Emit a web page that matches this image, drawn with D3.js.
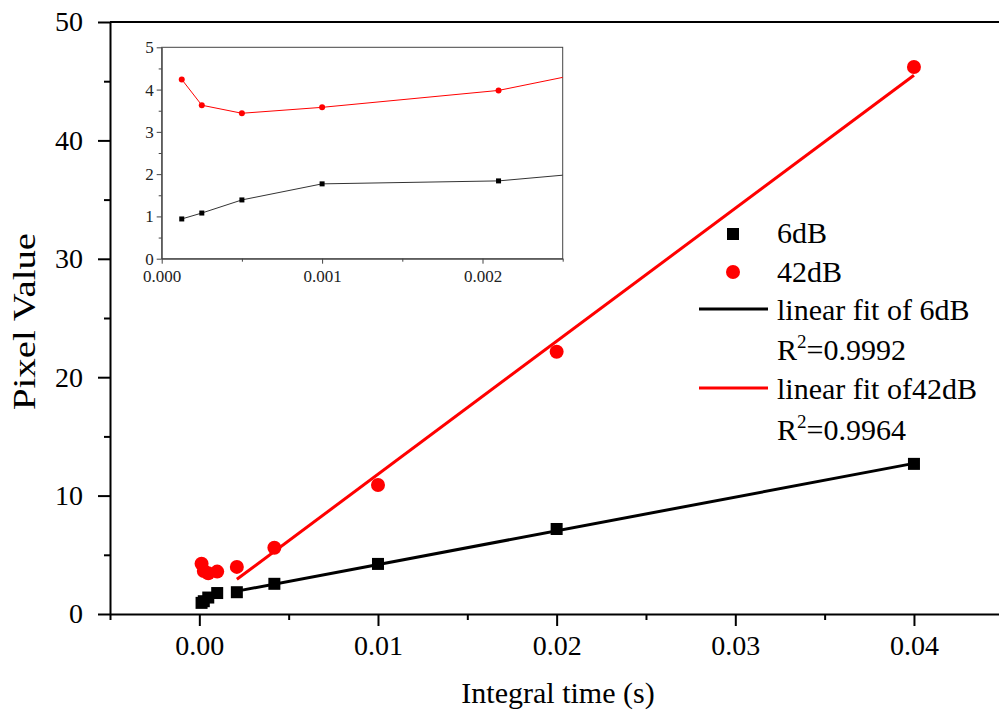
<!DOCTYPE html>
<html lang="en">
<head>
  <meta charset="utf-8">
  <title>Pixel value vs integral time</title>
  <style>
    body {
      margin: 0;
      background: #fff;
    }

    svg text {
      font-family: "Liberation Serif", "Times New Roman", serif !important;
      fill: #000;
    }

    .axis path, .axis line {
      fill: none;
      stroke: #000;
      stroke-width: 2;
    }

    .inset .axis path, .inset .axis line {
      stroke: #444;
      stroke-width: 1;
    }

    .inset .axis text {
      fill: #222;
    }

    .legend text {
      font-size: 30px;
    }
  </style>
</head>
<body>
  <div id="chart"></div>

  <script src="https://d3js.org/d3.v7.min.js"></script>
  <script>
    // integral times (s) and pixel values
    var times = [0.000125, 0.00025, 0.0005, 0.001, 0.0021, 0.0042, 0.01, 0.02, 0.04];
    var pix6dB = [0.94, 1.08, 1.39, 1.77, 1.84, 2.55, 4.23, 7.18, 12.68];
    var pix42dB = [4.24, 3.63, 3.44, 3.58, 3.98, 5.6, 10.9, 22.15, 46.2];

    // end points of the two linear fits (time, value)
    var fit6dB = [[0.0021, 1.93], [0.04, 12.72]];
    var fit42dB = [[0.0021, 2.93], [0.04, 45.5]];

    var xTicks = [0, 0.01, 0.02, 0.03, 0.04];
    var yTicks = [0, 10, 20, 30, 40, 50];
    var insetXTicks = [0, 0.001, 0.002];
    var insetYTicks = [0, 1, 2, 3, 4, 5];

    var legendLabels = ["6dB", "42dB", "linear fit of 6dB", "0.9992", "linear fit of42dB", "0.9964"];

    var width = 999, height = 716;
    var serif = "'Liberation Serif', 'Times New Roman', serif";

    var svg = d3.select("#chart").append("svg")
                .attr("width", width)
                .attr("height", height);

    var x = d3.scaleLinear().domain([-0.005, 0.04476]).range([110, 999]);
    var y = d3.scaleLinear().domain([0, 50]).range([614, 22]);

    function styleAxis(g, size) {
      g.attr("font-family", serif).attr("font-size", size);
      g.selectAll("text").style("font-family", serif).style("font-size", size + "px");
    }

    // top frame line
    svg.append("line")
        .attr("x1", 110).attr("x2", 999)
        .attr("y1", y(50)).attr("y2", y(50))
        .attr("stroke", "#000")
        .attr("stroke-width", 2);

    // main axes
    svg.append("g")
        .attr("class", "axis")
        .attr("transform", "translate(0," + y(0) + ")")
        .call(d3.axisBottom(x).tickValues(d3.range(-0.005, 0.045, 0.01)).tickSize(6).tickFormat(""))
        .select(".domain").remove();

    svg.append("g")
        .attr("class", "x axis")
        .attr("transform", "translate(0," + y(0) + ")")
        .call(d3.axisBottom(x).tickValues(xTicks).tickSize(12).tickSizeOuter(0).tickPadding(9)
                .tickFormat(d3.format(".2f")))
        .call(styleAxis, 28);

    svg.append("g")
        .attr("class", "axis")
        .attr("transform", "translate(" + x(-0.005) + ",0)")
        .call(d3.axisLeft(y).tickValues([5, 15, 25, 35, 45]).tickSize(6).tickFormat(""))
        .select(".domain").remove();

    svg.append("g")
        .attr("class", "y axis")
        .attr("transform", "translate(" + x(-0.005) + ",0)")
        .call(d3.axisLeft(y).tickValues(yTicks).tickSize(12).tickSizeOuter(0).tickPadding(15))
        .call(styleAxis, 28);

    // axis titles
    svg.append("text")
        .attr("x", 558)
        .attr("y", 703)
        .attr("text-anchor", "middle")
        .style("font-size", "30px")
        .text("Integral time (s)");

    svg.append("text")
        .attr("transform", "translate(35,321.5) rotate(-90)")
        .attr("text-anchor", "middle")
        .attr("textLength", 177)
        .attr("lengthAdjust", "spacingAndGlyphs")
        .style("font-size", "32px")
        .text("Pixel Value");

    // fit lines
    var fitLine = d3.line()
        .x(function(d) { return x(d[0]); })
        .y(function(d) { return y(d[1]); });

    svg.append("path")
        .datum(fit6dB)
        .attr("d", fitLine)
        .attr("fill", "none")
        .attr("stroke", "#000")
        .attr("stroke-width", 3);

    svg.append("path")
        .datum(fit42dB)
        .attr("d", fitLine)
        .attr("fill", "none")
        .attr("stroke", "#ff0000")
        .attr("stroke-width", 3);

    // markers
    svg.selectAll(".sq")
        .data(times)
        .enter().append("rect")
        .attr("class", "sq")
        .attr("x", function(d) { return x(d) - 6; })
        .attr("y", function(d, i) { return y(pix6dB[i]) - 6; })
        .attr("width", 12)
        .attr("height", 12)
        .attr("fill", "#000");

    svg.selectAll(".dot")
        .data(times)
        .enter().append("circle")
        .attr("class", "dot")
        .attr("cx", function(d) { return x(d); })
        .attr("cy", function(d, i) { return y(pix42dB[i]); })
        .attr("r", 7)
        .attr("fill", "#ff0000");

    // legend
    var legend = svg.append("g").attr("class", "legend");

    legend.append("rect")
        .attr("x", 727).attr("y", 228)
        .attr("width", 12).attr("height", 12)
        .attr("fill", "#000");
    legend.append("circle")
        .attr("cx", 733).attr("cy", 272).attr("r", 7)
        .attr("fill", "#ff0000");
    legend.append("line")
        .attr("x1", 699).attr("x2", 768)
        .attr("y1", 309).attr("y2", 309)
        .attr("stroke", "#000").attr("stroke-width", 3);
    legend.append("line")
        .attr("x1", 699).attr("x2", 768)
        .attr("y1", 388).attr("y2", 388)
        .attr("stroke", "#ff0000").attr("stroke-width", 3);

    var baselines = [243, 282, 320, 360, 399, 440];
    legendLabels.forEach(function(label, i) {
      var t = legend.append("text")
          .attr("x", 777)
          .attr("y", baselines[i]);
      if (i === 3 || i === 5) {
        t.append("tspan").text("R");
        t.append("tspan").attr("dy", -12).style("font-size", "19px").text("2");
        t.append("tspan").attr("dy", 12).text("=" + label);
      } else {
        t.text(label);
      }
    });

    // inset
    var inset = svg.append("g").attr("class", "inset");

    var ix = d3.scaleLinear().domain([0, 0.0025]).range([161.7, 562.7]);
    var iy = d3.scaleLinear().domain([0, 5]).range([258.7, 47.3]);

    inset.append("rect")
        .attr("x", ix(0)).attr("y", iy(5))
        .attr("width", ix(0.0025) - ix(0))
        .attr("height", iy(0) - iy(5))
        .attr("fill", "#fff")
        .attr("stroke", "#444")
        .attr("stroke-width", 1);

    inset.append("clipPath")
        .attr("id", "inset-clip")
        .append("rect")
        .attr("x", ix(0)).attr("y", iy(5))
        .attr("width", ix(0.0025) - ix(0))
        .attr("height", iy(0) - iy(5));

    inset.append("g")
        .attr("class", "axis")
        .attr("transform", "translate(0," + iy(0) + ")")
        .call(d3.axisBottom(ix).tickValues([0.0005, 0.0015, 0.0025]).tickSize(3).tickFormat(""))
        .select(".domain").remove();

    inset.append("g")
        .attr("class", "axis")
        .attr("transform", "translate(0," + iy(0) + ")")
        .call(d3.axisBottom(ix).tickValues(insetXTicks).tickSize(5).tickSizeOuter(0).tickPadding(6)
                .tickFormat(d3.format(".3f")))
        .call(styleAxis, 17);

    inset.append("g")
        .attr("class", "axis")
        .attr("transform", "translate(" + ix(0) + ",0)")
        .call(d3.axisLeft(iy).tickValues([0.5, 1.5, 2.5, 3.5, 4.5]).tickSize(3).tickFormat(""))
        .select(".domain").remove();

    inset.append("g")
        .attr("class", "axis")
        .attr("transform", "translate(" + ix(0) + ",0)")
        .call(d3.axisLeft(iy).tickValues(insetYTicks).tickSize(5).tickSizeOuter(0).tickPadding(3)
                .tickFormat(d3.format("d")))
        .call(styleAxis, 17);

    var plot = inset.append("g").attr("clip-path", "url(#inset-clip)");

    var line6 = d3.line()
        .x(function(d) { return ix(d); })
        .y(function(d, i) { return iy(pix6dB[i]); });
    var line42 = d3.line()
        .x(function(d) { return ix(d); })
        .y(function(d, i) { return iy(pix42dB[i]); });

    plot.append("path")
        .datum(times)
        .attr("d", line6)
        .attr("fill", "none")
        .attr("stroke", "#333")
        .attr("stroke-width", 1);

    plot.append("path")
        .datum(times)
        .attr("d", line42)
        .attr("fill", "none")
        .attr("stroke", "#ff0000")
        .attr("stroke-width", 1);

    plot.selectAll(".isq")
        .data(times)
        .enter().append("rect")
        .attr("class", "isq")
        .attr("x", function(d) { return ix(d) - 2.5; })
        .attr("y", function(d, i) { return iy(pix6dB[i]) - 2.5; })
        .attr("width", 5)
        .attr("height", 5)
        .attr("fill", "#000");

    plot.selectAll(".idot")
        .data(times)
        .enter().append("circle")
        .attr("class", "idot")
        .attr("cx", function(d) { return ix(d); })
        .attr("cy", function(d, i) { return iy(pix42dB[i]); })
        .attr("r", 3)
        .attr("fill", "#ff0000");
  </script>
</body>
</html>
